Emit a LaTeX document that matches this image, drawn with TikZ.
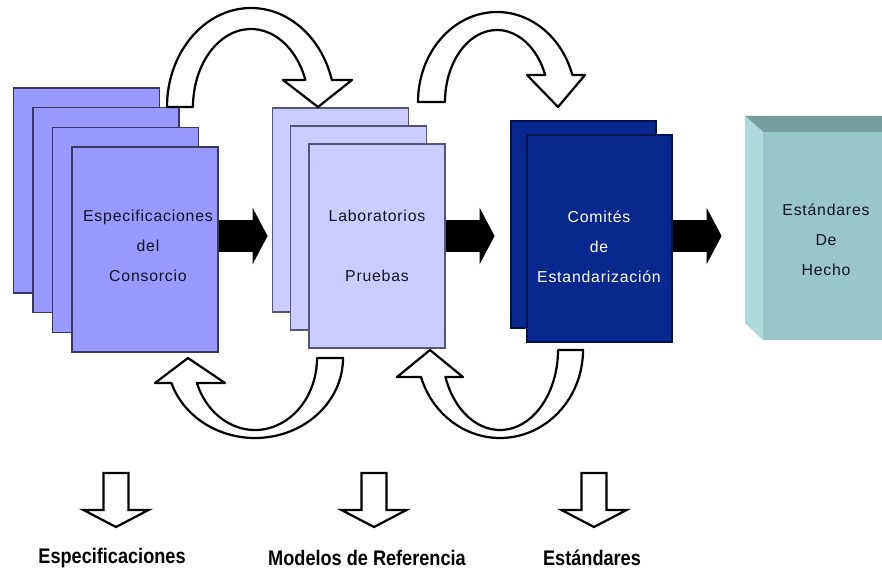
\documentclass[tikz,border=0pt]{standalone}
\usepackage{fontspec}
\setmainfont{Liberation Sans}
\newfontfamily\boxfont{Liberation Sans}[LetterSpace=5]
\newfontfamily\labelfont{Liberation Sans}[FakeStretch=0.86]
\usetikzlibrary{arrows.meta}

\definecolor{specfill}{RGB}{153,153,255}
\definecolor{specline}{RGB}{55,55,95}
\definecolor{labfill}{RGB}{204,204,255}
\definecolor{labline}{RGB}{85,85,120}
\definecolor{comfill}{RGB}{8,40,142}
\definecolor{comline}{RGB}{0,18,80}
\definecolor{hechofront}{RGB}{153,198,198}
\definecolor{hechotop}{RGB}{118,158,156}
\definecolor{hechoside}{RGB}{174,218,218}
\definecolor{darktext}{RGB}{20,20,34}

\begin{document}
\begin{tikzpicture}[x=0.3mm, y=-0.3mm,
  specpage/.style={draw=specline, fill=specfill, line width=1pt, minimum width=43.8mm, minimum height=61.5mm},
  labpage/.style={draw=labline, fill=labfill, line width=1pt, minimum width=40.8mm, minimum height=61.2mm},
  compage/.style={draw=comline, fill=comfill, line width=1pt, minimum width=43.5mm, minimum height=62.1mm},
  boxtext/.style={font=\boxfont\fontsize{13.5}{25.6}\selectfont, align=center, text=darktext},
  fat/.style={line width=26.5pt, -{Triangle[length=12.8pt, width=47.8pt]}},
  hollow/.style={draw, line width=1.9pt, fill=white, line join=round},
  result/.style={font=\labelfont\bfseries\fontsize{18}{20}\selectfont}]
	\clip (0,0) rectangle (882,572);
	\fill[white] (0,0) rectangle (882,572);

	% consorcio
	\foreach \i in {0,1,2}
		\node[specpage] (spec\i) at ({86.5+19.5*\i},{190.5+19.7*\i}) {};
	\node[specpage] (spec) at (145,249.5) {};
	\node[boxtext] (spectext) at (148,245.5) {Especificaciones\\del\\Consorcio};

	% laboratorios
	\foreach \i in {0,1}
		\node[labpage] (lab\i) at ({340.5+18.2*\i},{210+18*\i}) {};
	\node[labpage] (lab) at (377,246) {};
	\node[boxtext] (labtext) at (377,245.5) {Laboratorios\\\mbox{}\\Pruebas};

	% comites
	\node[compage] (com0) at (583.5,224.5) {};
	\node[compage] (com) at (599.5,238.5) {};
	\node[boxtext, text=white] (comtext) at (599,247) {Comités\\de\\Estandarización};

	% estandares de hecho
	\node[fill=hechofront, minimum width=38.1mm, minimum height=62.4mm] (hecho) at (826.5,236) {};
	\fill[hechotop] (hecho.north west) -- ++(-18,-16) -- ++(200,0) -- ++(18,16) -- cycle;
	\fill[hechoside] (hecho.north west) -- ++(-18,-16) -- ++(0,207) -- (hecho.south west) -- cycle;
	\node[boxtext] (hechotext) at (826,239.5) {Estándares\\De\\Hecho};

	% flechas negras
	\coordinate (axis) at (0,236);
	\foreach \from in {spec,lab,com}
		\draw[fat] (\from.east |- axis) -- ++(49,0);

	% flechas curvas
	\draw[hollow] (167,107) arc[start angle=180, end angle=344.17, x radius=84, y radius=99]
		-- (352,80) -- (318,107) -- (283,80) -- (305.4,80)
		arc[start angle=339.75, end angle=180, x radius=58, y radius=78] -- cycle;
	\draw[hollow] (418,102) arc[start angle=180, end angle=342.54, x radius=79, y radius=90]
		-- (585,75) -- (558,107) -- (527,75) -- (545.2,75)
		arc[start angle=337.98, end angle=180, x radius=52, y radius=72] -- cycle;
	\draw[hollow] (343,358) arc[start angle=0, end angle=161.79, x radius=88, y radius=80]
		-- (155,383) -- (188,358) -- (225,383) -- (196.9,383)
		arc[start angle=159.68, end angle=0, x radius=62, y radius=72] -- cycle;
	\draw[hollow] (583,350) arc[start angle=0, end angle=162.13, x radius=83, y radius=88]
		-- (397,377) -- (430,350) -- (463,377) -- (445.4,377)
		arc[start angle=160.28, end angle=0, x radius=58, y radius=80] -- cycle;

	% resultados
	\foreach \x in {116,374,594}
		\draw[hollow, line join=miter] ({\x-12.5},473) -- ({\x+12.5},473) -- ({\x+12.5},510) -- ({\x+32.5},510)
			-- (\x,527) -- ({\x-32.5},510) -- ({\x-12.5},510) -- cycle;
	\node[result] (r1) at (112,558) {Especificaciones};
	\node[result] (r2) at (367,558) {Modelos de Referencia};
	\node[result] (r3) at (592,558) {Estándares};
\end{tikzpicture}
\end{document}
